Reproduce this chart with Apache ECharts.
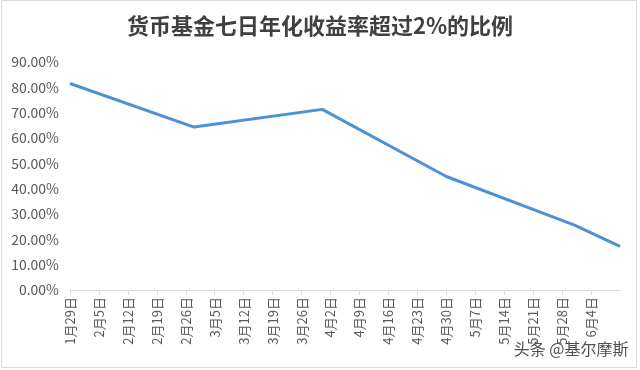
<!DOCTYPE html>
<html>
<head>
<meta charset="utf-8">
<script src="https://cdn.jsdelivr.net/npm/echarts@6/dist/echarts.min.js"></script>
<style>html,body{margin:0;padding:0;background:#fff;}#c{width:640px;height:370px;}</style>
</head>
<body>
<div id="c"></div>
<script>
// Tick labels (weekly, every 7 days from 1月29日)
const tickLabels = ['1月29日','2月5日','2月12日','2月19日','2月26日','3月5日','3月12日','3月19日','3月26日','4月2日','4月9日','4月16日','4月23日','4月30日','5月7日','5月14日','5月21日','5月28日','6月4日'];
// Observation dates and day offsets from 1月29日
const obsDates = ['1月29日','2月28日','3月31日','4月30日','5月31日','6月11日'];
const dayOffsets = [0, 30, 61, 91, 122, 133];
// Share of money funds with 7-day annualized yield above 2% (%)
const shareValues = [81.5, 64.3, 71.3, 44.8, 25.6, 17.2];

const chart = echarts.init(document.getElementById('c'));
const FONT = 'Noto Sans CJK SC';
chart.setOption({
  backgroundColor: '#ffffff',
  animation: false,
  title: {
    text: '货币基金七日年化收益率超过2%的比例',
    left: 'center',
    top: 10,
    textStyle: { fontFamily: FONT, fontSize: 22, fontWeight: 'bold', color: '#404040' }
  },
  grid: { left: 70, right: 20, top: 62, bottom: 80 },
  xAxis: {
    type: 'value',
    min: 0,
    max: 133,
    interval: 7,
    splitLine: { show: false },
    axisLine: { show: true, lineStyle: { color: '#d9d9d9', width: 1 } },
    axisTick: { show: true, length: 5, lineStyle: { color: '#d9d9d9' } },
    axisLabel: {
      rotate: 90,
      margin: 7,
      showMaxLabel: false,
      fontFamily: FONT,
      fontSize: 13,
      color: '#595959',
      formatter: function (v) {
        const i = Math.round(v / 7);
        return tickLabels[i] || '';
      }
    }
  },
  yAxis: {
    type: 'value',
    min: 0,
    max: 90,
    interval: 10,
    splitLine: { show: false },
    axisLine: { show: false },
    axisTick: { show: false },
    axisLabel: {
      margin: 11,
      fontFamily: FONT,
      fontSize: 14,
      color: '#595959',
      formatter: function (v) { return v.toFixed(2) + '%'; }
    }
  },
  series: [{
    type: 'line',
    name: obsDates.join(','),
    data: dayOffsets.map((d, i) => [d, shareValues[i]]),
    showSymbol: false,
    lineStyle: { color: '#4C92D4', width: 3 },
    itemStyle: { color: '#4C92D4' }
  }],
  graphic: [
    {
      type: 'rect',
      shape: { x: 1.5, y: 0.5, width: 635, height: 367 },
      style: { fill: 'none', stroke: '#dcdcdc', lineWidth: 1 },
      silent: true
    },
    {
      type: 'text',
      right: 10,
      top: 339,
      style: {
        text: '头条 @基尔摩斯',
        font: '16px "Noto Sans CJK SC"',
        fill: '#505050',
        stroke: '#ffffff',
        lineWidth: 3
      }
    }
  ]
});
</script>
</body>
</html>
